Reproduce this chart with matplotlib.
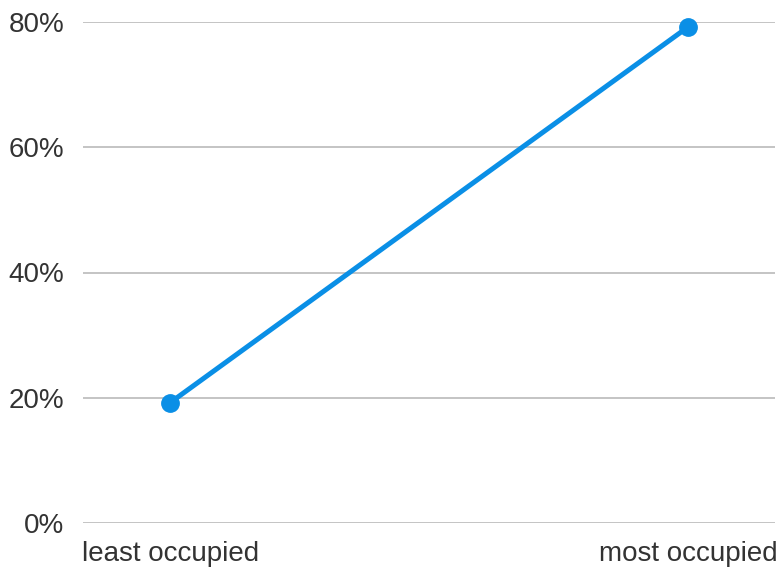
import matplotlib
matplotlib.use("Agg")
import matplotlib.pyplot as plt

categories = ["least occupied", "most occupied"]
values = [19.2, 79.2]
y_ticks = [0, 20, 40, 60, 80]
y_tick_labels = ["0%", "20%", "40%", "60%", "80%"]

plt.rcParams['font.family'] = ['Liberation Sans', 'DejaVu Sans']
text_color = "#333333"
line_color = "#0A8FE6"

fig = plt.figure(figsize=(7.79, 5.69), dpi=100)
W, H = 779, 569
ax = fig.add_axes([83 / W, 1 - 523 / H, (775 - 83) / W, (523 - 22) / H])

x = list(range(len(categories)))
ax.plot(x, values, color=line_color, linewidth=3.6, marker="o", markersize=12.5,
        solid_capstyle="round", clip_on=False, zorder=3)

ax.set_ylim(0, 80)
xmin, xmax = -0.168, 1.168
ax.set_xlim(xmin, xmax)
ax.set_yticks(y_ticks)
ax.set_yticklabels(y_tick_labels)
ax.set_xticks(x)
ax.set_xticklabels([])

# category labels aligned to the ends of the plot area
ax.annotate(categories[0], xy=(0, 0), xycoords="axes fraction",
            xytext=(-1, -18), textcoords="offset pixels",
            ha="left", va="top", fontsize=20, color=text_color)
ax.annotate(categories[1], xy=(1, 0), xycoords="axes fraction",
            xytext=(3, -18), textcoords="offset pixels",
            ha="right", va="top", fontsize=20, color=text_color)

ax.grid(axis="y", color="#C4C4C4", linewidth=1.4)
ax.set_axisbelow(True)
for s in ax.spines.values():
    s.set_visible(False)
ax.tick_params(axis="both", length=0, labelsize=20, labelcolor=text_color)
ax.tick_params(axis="y", pad=13.5)

fig.savefig("out.png", dpi=100)
